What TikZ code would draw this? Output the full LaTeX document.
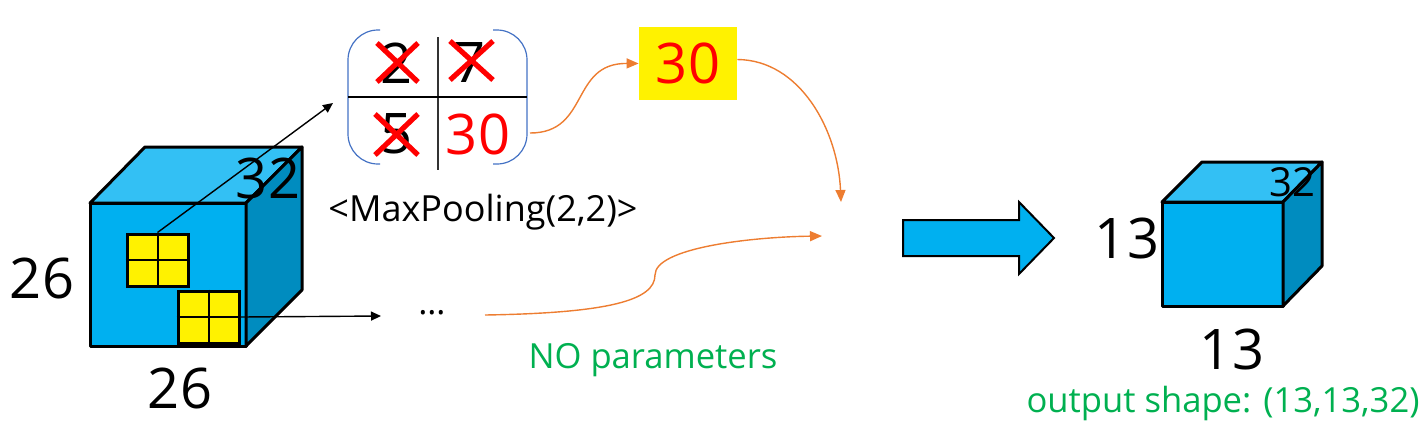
\documentclass[tikz,border=0pt]{standalone}
\usepackage{fontspec}
\setmainfont{Open Sans}
\usetikzlibrary{arrows.meta}
\definecolor{cubefront}{HTML}{00B0F0}
\definecolor{cubetop}{HTML}{33C0F4}
\definecolor{cubeside}{HTML}{008CBF}
\definecolor{okgreen}{HTML}{00B050}
\definecolor{orng}{HTML}{ED7D31}
\definecolor{brk}{HTML}{4472C4}
\begin{document}
\begin{tikzpicture}[x=0.5pt,y=-0.5pt,
  face/.style={draw=black, line width=1.5pt, line join=round},
  gridbox/.style={draw=black, fill=yellow, line width=1.5pt, minimum width=30.5pt, minimum height=26pt, inner sep=0pt},
  blkarrow/.style={draw=black, line width=0.7pt, -{Triangle[length=5pt,width=4.5pt]}},
  orarrow/.style={draw=orng, line width=0.7pt, -{Triangle[length=6pt,width=5pt]}},
  redx/.style={draw=red, line width=2.6pt},
  huge/.style={font=\fontsize{28}{30}\selectfont, inner sep=0pt},
  mid/.style={font=\fontsize{20}{22}\selectfont, inner sep=0pt},
  small/.style={font=\fontsize{17.3}{20}\selectfont, inner sep=0pt},
  bracket/.style={draw=brk, line width=0.6pt, rounded corners=15pt}]
\useasboundingbox (0,0) rectangle (1425,436);

% big cube
\draw[face, fill=cubefront] (90,203) rectangle (246,346);
\draw[face, fill=cubetop] (90,203) -- (145,147) -- (302,147) -- (246,203) -- cycle;
\draw[face, fill=cubeside] (246,203) -- (302,147) -- (302,290) -- (246,346) -- cycle;

% yellow windows
\node[gridbox] (g1) at (157.5,260) {};
\draw[line width=1pt] (g1.north) -- (g1.south) (g1.west) -- (g1.east);
\node[gridbox] (g2) at (208.5,317) {};
\draw[line width=1pt] (g2.north) -- (g2.south) (g2.west) -- (g2.east);

% labels of big cube
\node[huge] (d32) at (268,178) {32};
\node[huge] (h26) at (42,278) {26};
\node[huge] (w26) at (180,388) {26};

% pooling table
\draw[bracket] (380,30) -- (348,30) -- (348,164) -- (380,164);
\draw[bracket] (493,30) -- (527,30) -- (527,164) -- (493,164);
\draw[line width=0.8pt, black!80] (438,37) -- (438,170);
\draw[line width=0.8pt] (348,97) -- (527,97);
\node[huge] (n2) at (397,63) {2};
\node[huge] (n7) at (470,63) {7};
\node[huge] (n5) at (397,134) {5};
\node[huge, text=red] (n30) at (478,134) {30};
\draw[redx] (377,43) -- (418,82) (377,82) -- (418,43);
\draw[redx] (450,41) -- (493,80) (450,80) -- (493,41);
\draw[redx] (375,114) -- (418,155) (375,155) -- (418,114);
\node[small, font=\fontsize{18}{20}\selectfont] (mp) at (483,212) {<MaxPooling(2,2)>};

% black pointers
\coordinate (p1) at (333,103);
\coordinate (p2) at (381,316);
\draw[blkarrow] (g1.north) -- (p1);
\draw[blkarrow] (g2.east) -- (p2);
\node[small] (dots) at (432,313) {…};

% max value
\node[fill=yellow, minimum width=49pt, minimum height=36.5pt, inner sep=0pt,
      font=\fontsize{28}{30}\selectfont, text=red] (y30) at (688,63.5) {30};

% orange curves
\coordinate (t1) at (530,133);
\coordinate (m1) at (841,202);
\coordinate (s3) at (485,315);
\coordinate (m2) at (822,236);
\draw[orarrow] (t1) .. controls (590,133) and (570,63) .. (y30.west);
\draw[orarrow] ([yshift=2pt]y30.east) .. controls (800,60) and (838,130) .. (m1);
\draw[orarrow] (s3) .. controls (610,313) and (655,300) .. (655,275) .. controls (655,248) and (750,237) .. (m2);

\node[small, text=okgreen] (nop) at (653,360) {NO parameters};

% big arrow
\draw[draw=black, line width=1pt, fill=cubefront, line join=miter]
  (903,220) -- (1019,220) -- (1019,202) -- (1054,238) -- (1019,274) -- (1019,256) -- (903,256) -- cycle;

% small cube
\draw[face, fill=cubefront] (1162,202) rectangle (1283,306);
\draw[face, fill=cubetop] (1162,202) -- (1202,162) -- (1322,162) -- (1283,202) -- cycle;
\draw[face, fill=cubeside] (1283,202) -- (1322,162) -- (1322,266) -- (1283,306) -- cycle;
\node[mid] (s32) at (1292,182) {32};
\node[huge] (h13) at (1127,238) {13};
\node[huge] (w13) at (1232,349) {13};
\node[small, text=okgreen] (outs) at (1223,403) {output shape: (13,13,32)};
\end{tikzpicture}
\end{document}
